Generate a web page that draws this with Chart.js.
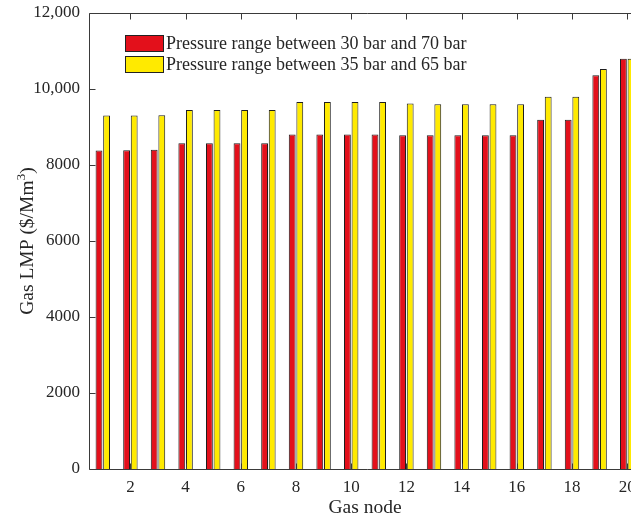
<!DOCTYPE html>
<html>
<head>
<meta charset="utf-8">
<script src="https://cdn.jsdelivr.net/npm/chart.js@4/dist/chart.umd.min.js"></script>
<style>
  html, body { margin: 0; padding: 0; background: #fff; overflow: hidden; width: 631px; height: 518px; }
  canvas { display: block; }
</style>
</head>
<body>
<canvas id="c" width="660" height="518" style="width:660px;height:518px"></canvas>
<script>
// ---- data ----
const gasNodes = ['1','2','3','4','5','6','7','8','9','10','11','12','13','14','15','16','17','18','19','20'];
const xTickLabels = ['2','4','6','8','10','12','14','16','18','20'];
const seriesNames = ['Pressure range between 30 bar and 70 bar', 'Pressure range between 35 bar and 65 bar'];
const lmp30to70 = [8380, 8390, 8400, 8575, 8575, 8575, 8575, 8800, 8800, 8800, 8800, 8785, 8785, 8785, 8785, 8785, 9190, 9190, 10365, 10795];
const lmp35to65 = [9300, 9300, 9310, 9445, 9445, 9445, 9445, 9655, 9655, 9655, 9655, 9620, 9600, 9600, 9600, 9600, 9795, 9795, 10525, 10795];
const yTickLabels = ['0', '2000', '4000', '6000', '8000', '10,000', '12,000'];
const yTickValues = [0, 2000, 4000, 6000, 8000, 10000, 12000];
const xTitle = 'Gas node';
const yTitleParts = ['Gas LMP ($/Mm', '3', ')'];

const FONT = '"Liberation Serif", "Times New Roman", serif';
const TXT = '#262626';
const AX = '#3a3a3a';

const axisBox = {
  id: 'axisBox',
  afterDatasetsDraw(chart) {
    const { ctx, chartArea: { left, right, top, bottom }, scales: { x, y } } = chart;
    ctx.save();
    ctx.strokeStyle = AX;
    ctx.lineWidth = 1;
    const L = Math.round(left) + 0.5, T = Math.round(top) + 0.5, B = Math.round(bottom) + 0.5;
    ctx.beginPath();
    ctx.moveTo(L, B); ctx.lineTo(L, T); ctx.lineTo(right + 5, T);
    ctx.moveTo(L, B); ctx.lineTo(right + 5, B);
    yTickValues.forEach(v => {
      const py = Math.round(y.getPixelForValue(v)) + 0.5;
      ctx.moveTo(L, py); ctx.lineTo(L + 6, py);
    });
    gasNodes.forEach((lab, i) => {
      if (!xTickLabels.includes(lab)) return;
      const px = Math.round(x.getPixelForValue(i)) + 0.5;
      ctx.moveTo(px, T); ctx.lineTo(px, T + 6);
      ctx.moveTo(px, B); ctx.lineTo(px, B - 6);
    });
    ctx.stroke();
    ctx.restore();
  }
};

const yTitlePlugin = {
  id: 'yTitlePlugin',
  afterDraw(chart) {
    const { ctx, chartArea: { top, bottom } } = chart;
    ctx.save();
    const big = '19.5px ' + FONT, small = '13.5px ' + FONT;
    ctx.font = big; const w0 = ctx.measureText(yTitleParts[0]).width;
    ctx.font = small; const w1 = ctx.measureText(yTitleParts[1]).width;
    ctx.font = big; const w2 = ctx.measureText(yTitleParts[2]).width;
    const total = w0 + w1 + w2;
    const cy = (top + bottom) / 2;
    ctx.translate(33, cy);
    ctx.rotate(-Math.PI / 2);
    ctx.fillStyle = TXT;
    ctx.textBaseline = 'alphabetic';
    ctx.textAlign = 'left';
    let xx = -total / 2;
    ctx.font = big; ctx.fillText(yTitleParts[0], xx, 0); xx += w0;
    ctx.font = small; ctx.fillText(yTitleParts[1], xx, -8); xx += w1;
    ctx.font = big; ctx.fillText(yTitleParts[2], xx, 0);
    ctx.restore();
  }
};

const boxLegend = {
  id: 'boxLegend',
  afterDraw(chart) {
    const { ctx } = chart;
    ctx.save();
    const bx = 125, bw = 38, bh = 16;
    const rows = [35, 56];
    chart.data.datasets.forEach((ds, i) => {
      const by = rows[i];
      ctx.fillStyle = ds.backgroundColor;
      ctx.fillRect(bx, by, bw, bh);
      ctx.strokeStyle = '#222';
      ctx.lineWidth = 1;
      ctx.strokeRect(bx + 0.5, by + 0.5, bw, bh);
      ctx.fillStyle = TXT;
      ctx.font = '18px ' + FONT;
      ctx.textBaseline = 'middle';
      ctx.textAlign = 'left';
      ctx.fillText(ds.label, bx + bw + 3, by + bh / 2 + 1);
    });
    ctx.restore();
  }
};

new Chart(document.getElementById('c'), {
  type: 'bar',
  data: {
    labels: gasNodes,
    datasets: [
      { label: seriesNames[0], data: lmp30to70, backgroundColor: '#E3101B', borderColor: '#1e1e1e', borderWidth: 1 },
      { label: seriesNames[1], data: lmp35to65, backgroundColor: '#FFEA00', borderColor: '#1e1e1e', borderWidth: 1 }
    ]
  },
  options: {
    responsive: false,
    devicePixelRatio: 1,
    animation: false,
    datasets: { bar: { categoryPercentage: 0.55, barPercentage: 0.9 } },
    layout: { padding: { top: 13, right: 19, left: 0, bottom: 0 } },
    plugins: { legend: { display: false }, tooltip: { enabled: false } },
    scales: {
      x: {
        grid: { display: false, drawTicks: false },
        border: { display: false },
        ticks: {
          autoSkip: false, maxRotation: 0, padding: 8, color: TXT,
          font: { family: FONT, size: 17 },
          callback: function (v, i) { const l = gasNodes[i]; return xTickLabels.includes(l) ? l : ''; }
        },
        title: { display: true, text: xTitle, color: TXT, font: { family: FONT, size: 19.5, lineHeight: 1 }, padding: { top: 0, bottom: 0 } },
        afterFit: s => { s.height = 49; s.paddingLeft = 0; s.paddingRight = 0; }
      },
      y: {
        min: 0, max: 12000,
        grid: { display: false, drawTicks: false },
        border: { display: false },
        afterBuildTicks: s => { s.ticks = yTickValues.map(v => ({ value: v })); },
        ticks: {
          padding: 9, color: TXT, font: { family: FONT, size: 17 },
          callback: v => yTickLabels[yTickValues.indexOf(v)]
        },
        title: { display: false },
        afterFit: s => { s.width = 89; s.paddingTop = 0; s.paddingBottom = 0; }
      }
    }
  },
  plugins: [axisBox, yTitlePlugin, boxLegend]
});
</script>
</body>
</html>
